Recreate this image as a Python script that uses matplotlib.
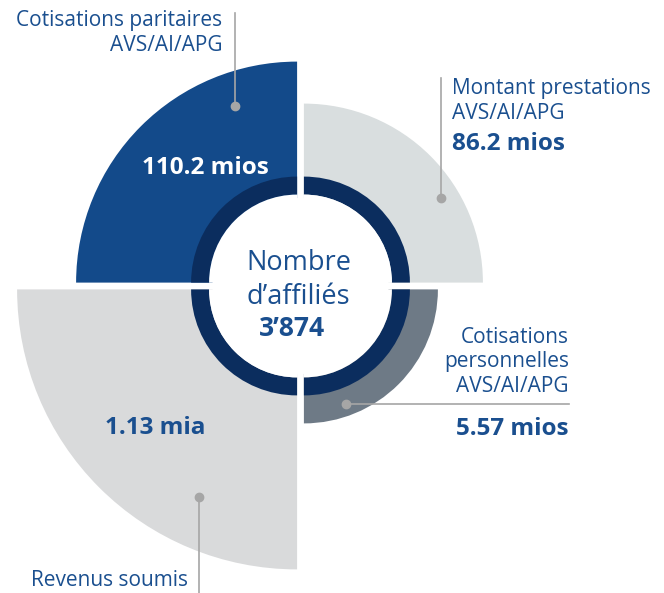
import matplotlib.pyplot as plt
from matplotlib.patches import Wedge, Circle

plt.rcParams['font.family'] = ['Open Sans', 'DejaVu Sans']

# quadrants: top-left, top-right, bottom-right, bottom-left
labels = ['Cotisations paritaires\nAVS/AI/APG', 'Montant prestations\nAVS/AI/APG',
          'Cotisations\npersonnelles\nAVS/AI/APG', 'Revenus soumis']
values = ['110.2 mios', '86.2 mios', '5.57 mios', '1.13 mia']
centre_title = 'Nombre\nd\u2019affiliés'
centre_value = '3\u2019874'

# drawing style (pixels)
radii = [221, 179, 134, 280]
colors = ['#134a8a', '#d9dedf', '#6e7a86', '#d9dadb']
angles = [(180, 270), (270, 360), (0, 90), (90, 180)]
offsets = [(-1, -1), (1, -1), (1, 1), (-1, 1)]
cx, cy, gap = 300.5, 286, 3.4
blue = '#1a4f8f'
navy = '#0b2d5e'
lead = '#a6a6a6'
fs_lab, fs_val = 15, 17.5

fig = plt.figure(figsize=(6.64, 5.93), dpi=100)
ax = fig.add_axes([0, 0, 1, 1])
ax.set_xlim(0, 664)
ax.set_ylim(593, 0)
ax.axis('off')

for r, c, (t1, t2), (sx, sy) in zip(radii, colors, angles, offsets):
    ctr = (cx + sx * gap, cy + sy * gap)
    ax.add_patch(Wedge(ctr, r, t1, t2, facecolor=c, edgecolor='none'))
    ax.add_patch(Wedge(ctr, 106, t1, t2, width=18, facecolor=navy, edgecolor='none'))
    ax.add_patch(Wedge(ctr, 88, t1, t2, facecolor='white', edgecolor='none'))
ax.add_patch(Circle((cx, cy), 88, facecolor='white', edgecolor='none'))

# centre
ax.text(cx - 2, 280, centre_title, ha='center', va='center', color=blue,
        fontsize=19.5, linespacing=1.3)
ax.text(cx - 8, 328, centre_value, ha='center', va='center', color=blue,
        fontsize=19, fontweight='bold')

# top-left
ax.text(222, 33, labels[0], ha='right', va='center', color=blue, fontsize=fs_lab,
        linespacing=1.3)
ax.plot([235, 235], [13, 106], color=lead, lw=1.2)
ax.plot(235, 106, 'o', color=lead, ms=6)
ax.text(205, 168, values[0], ha='center', va='center', color='white',
        fontsize=fs_val, fontweight='bold')

# top-right
ax.text(452, 101, labels[1], ha='left', va='center', color=blue, fontsize=fs_lab,
        linespacing=1.3)
ax.text(452, 144, values[1], ha='left', va='center', color=blue,
        fontsize=fs_val, fontweight='bold')
ax.plot([441, 441], [78, 197], color=lead, lw=1.2)
ax.plot(441, 198, 'o', color=lead, ms=6)

# bottom-right
ax.text(569, 362, labels[2], ha='right', va='center', color=blue, fontsize=fs_lab,
        linespacing=1.22)
ax.plot([346, 569], [404, 404], color=lead, lw=1.2)
ax.plot(346, 404, 'o', color=lead, ms=6)
ax.text(569, 429, values[2], ha='right', va='center', color=blue,
        fontsize=fs_val, fontweight='bold')

# bottom-left
ax.text(155, 428, values[3], ha='center', va='center', color=blue,
        fontsize=fs_val, fontweight='bold')
ax.plot([199, 199], [497, 593], color=lead, lw=1.2)
ax.plot(199, 497, 'o', color=lead, ms=6)
ax.text(188, 581, labels[3], ha='right', va='center', color=blue, fontsize=fs_lab)

fig.savefig('out.png', dpi=100)
